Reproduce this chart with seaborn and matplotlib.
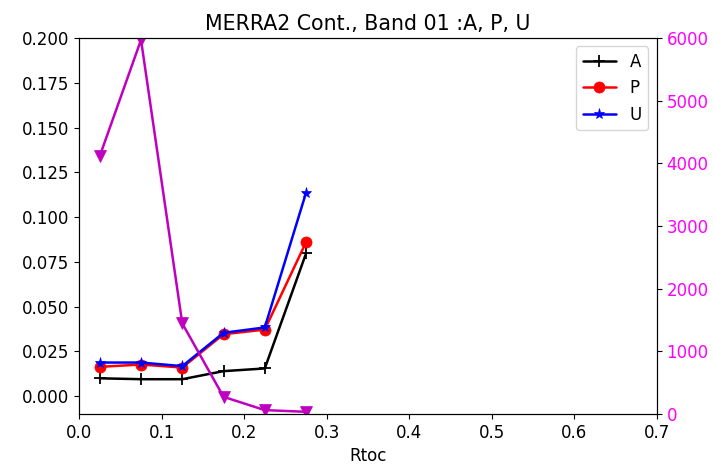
import matplotlib
matplotlib.use("Agg")
import matplotlib.pyplot as plt
import seaborn as sns
import pandas as pd

rtoc = [0.025, 0.075, 0.125, 0.175, 0.225, 0.275]
a_vals = [0.0100, 0.0095, 0.0095, 0.0140, 0.0155, 0.0797]
p_vals = [0.0164, 0.0177, 0.0160, 0.0346, 0.0372, 0.0860]
u_vals = [0.0188, 0.0188, 0.0168, 0.0354, 0.0384, 0.1136]
count_vals = [4117, 5970, 1447, 276, 64, 37]

df = pd.DataFrame({"Rtoc": rtoc, "A": a_vals, "P": p_vals, "U": u_vals, "N": count_vals})

sns.set_style("ticks")
plt.rcParams["font.family"] = ["DejaVu Sans"]
plt.rcParams.update({
    "text.color": "black", "axes.labelcolor": "black",
    "xtick.color": "black", "ytick.color": "black",
    "axes.edgecolor": "black", "legend.edgecolor": "0.8",
})

fig = plt.figure(figsize=(7.13, 4.69), dpi=100)
ax = fig.add_axes([0.111, 0.117, 0.810, 0.802])

sns.lineplot(data=df, x="Rtoc", y="A", ax=ax, color="black", marker="+", markersize=9,
             markeredgewidth=1.3, markeredgecolor="black", linewidth=1.8, label="A")
sns.lineplot(data=df, x="Rtoc", y="P", ax=ax, color="red", marker="o", markersize=8,
             markeredgecolor="red", markeredgewidth=0.5, linewidth=1.8, label="P")
sns.lineplot(data=df, x="Rtoc", y="U", ax=ax, color="blue", marker="*", markersize=8,
             markeredgecolor="blue", markeredgewidth=0.5, linewidth=1.8, label="U")

ax.set_xlim(0, 0.7)
ax.set_ylim(-0.01, 0.2)
yt = [0.0, 0.025, 0.05, 0.075, 0.1, 0.125, 0.15, 0.175, 0.2]
ax.set_yticks(yt)
ax.set_yticklabels([f"{v:.3f}" for v in yt])
ax.set_xlabel("Rtoc", fontsize=12)
ax.set_ylabel("")
ax.set_title("MERRA2 Cont., Band 01 :A, P, U", fontsize=14.8)
ax.tick_params(labelsize=12)
ax.legend(loc="upper right", fontsize=12, frameon=True)

ax2 = ax.twinx()
sns.lineplot(data=df, x="Rtoc", y="N", ax=ax2, color="#bf00bf", marker="v", markersize=9,
             markeredgecolor="#bf00bf", markeredgewidth=0.5, linewidth=1.8, legend=False)
ax2.set_ylim(0, 6000)
ax2.set_ylabel("")
ax2.tick_params(axis="y", labelcolor="magenta", labelsize=12)

for a in (ax, ax2):
    for s in a.spines.values():
        s.set_visible(True)
        s.set_color("black")

fig.savefig("out.png", dpi=100)
